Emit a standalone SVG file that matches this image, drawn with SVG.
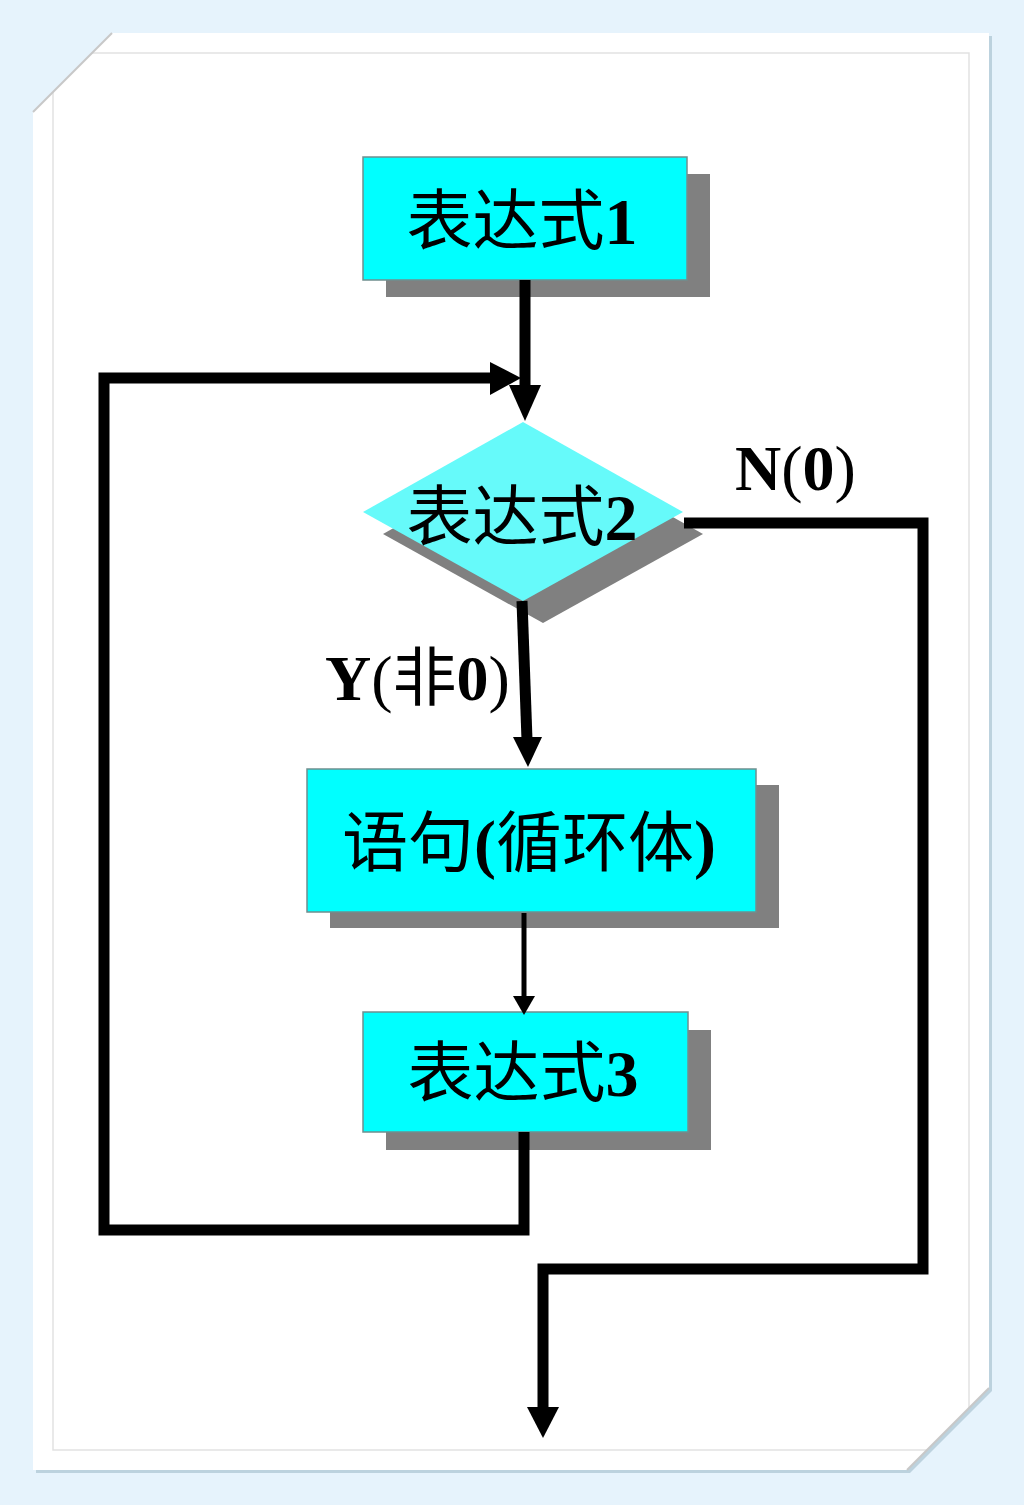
<svg xmlns="http://www.w3.org/2000/svg" width="1024" height="1505" viewBox="0 0 1024 1505">
  <style>
    .box { fill: #00ffff; stroke: #6f8f8f; stroke-width: 1.5; }
    .dia { fill: #66fafa; }
    .shadow { fill: #808080; }
    .wire { fill: none; stroke: #000; stroke-width: 11; stroke-linejoin: miter; stroke-linecap: butt; }
    .thin { fill: none; stroke: #000; stroke-width: 5; }
    .head { fill: #000; }
    .t { font-family: "Liberation Serif", "Noto Sans CJK SC", serif; font-size: 66px; fill: #000; }
    .lbl { font-family: "Liberation Serif", "Noto Sans CJK SC", serif; font-size: 64px; fill: #000; }
    .b { font-weight: bold; }
  </style>
  <defs>
    <linearGradient id="fold1" x1="0" y1="0" x2="1" y2="1">
      <stop offset="0" stop-color="#b0b0b0" stop-opacity="0.6"/>
      <stop offset="1" stop-color="#ffffff" stop-opacity="0"/>
    </linearGradient>
  </defs>

  <!-- background and page -->
  <rect x="0" y="0" width="1024" height="1505" fill="#e6f3fc"/>
  <polygon points="114,36 992,36 992,1391 910,1473 36,1473 36,115" fill="#bcd2de"/>
  <polygon points="112,33 989,33 989,1388 907,1470 33,1470 33,112" fill="#ffffff"/>
  <path d="M92,53 H969 V1408 M927,1450 H53 V92" fill="none" stroke="#e2e2e2" stroke-width="1.5"/>
  <line x1="112" y1="33" x2="33" y2="112" stroke="#c8c8c8" stroke-width="2"/>
  <line x1="989" y1="1388" x2="907" y2="1470" stroke="#c8c8c8" stroke-width="2"/>

  <g id="node-expr1">
    <rect class="shadow" x="386" y="174" width="324" height="123"/>
    <rect class="box" x="363" y="157" width="324" height="123"/>
    <text class="t" x="522" y="244" text-anchor="middle">表达式<tspan class="b">1</tspan></text>
  </g>

  <g id="node-expr2">
    <polygon class="shadow" points="543,444 703,534 543,623 383,534"/>
    <polygon class="dia" points="523,422 683,512 523,601 363,512"/>
    <text class="t" x="522" y="540" text-anchor="middle">表达式<tspan class="b">2</tspan></text>
  </g>

  <g id="node-body">
    <rect class="shadow" x="330" y="785" width="449" height="143"/>
    <rect class="box" x="307" y="769" width="449" height="143"/>
    <text class="t" x="529" y="866" text-anchor="middle">语句<tspan class="b">(</tspan>循环体<tspan class="b">)</tspan></text>
  </g>

  <g id="node-expr3">
    <rect class="shadow" x="386" y="1030" width="325" height="120"/>
    <rect class="box" x="363" y="1012" width="325" height="120"/>
    <text class="t" x="523" y="1096" text-anchor="middle">表达式<tspan class="b">3</tspan></text>
  </g>

  <g id="connectors">
    <path class="wire" d="M525,280 V390"/>
    <polygon class="head" points="509,385 541,385 525,421"/>

    <path class="wire" d="M524,1132 V1230 H104 V378 H494"/>
    <polygon class="head" points="490,362 490,395 521,378"/>

    <path class="wire" d="M684,523 H923 V1269 H543 V1410"/>
    <polygon class="head" points="527,1407 559,1407 543,1438"/>

    <path class="wire" d="M522,601 L527,740"/>
    <polygon class="head" points="513,737 542,737 528,767"/>

    <path class="thin" d="M524,913 V998"/>
    <polygon class="head" points="513,996 535,996 524,1015"/>

    <text class="lbl" x="735" y="490"><tspan class="b">N</tspan>(<tspan class="b">0</tspan>)</text>
    <text class="lbl" x="325" y="700"><tspan class="b">Y</tspan>(非<tspan class="b">0</tspan>)</text>
  </g>
</svg>
